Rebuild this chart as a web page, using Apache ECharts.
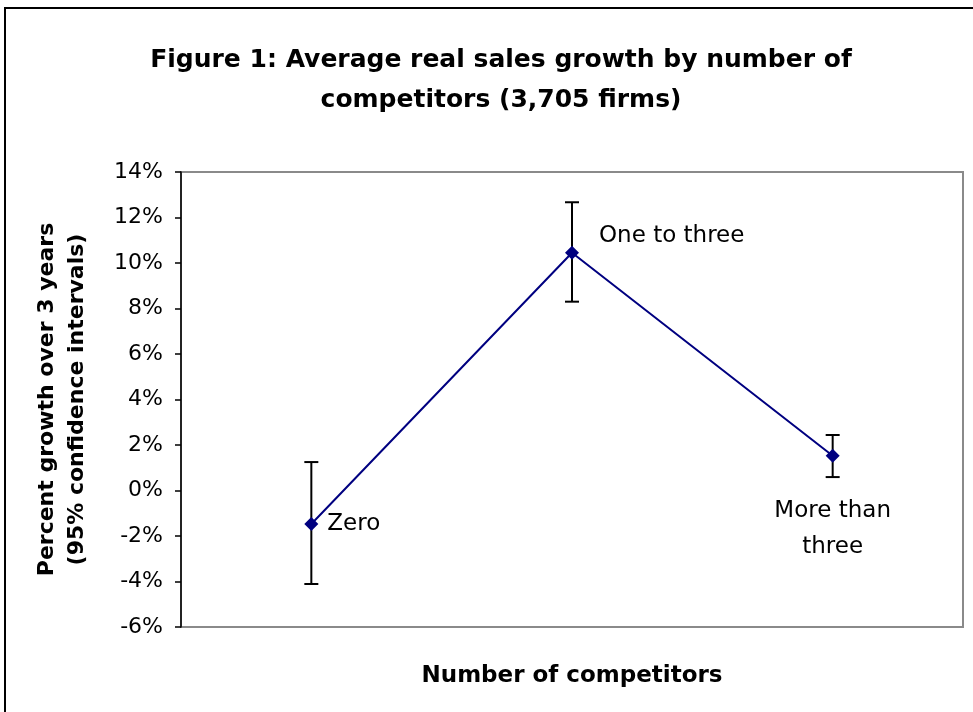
<!DOCTYPE html>
<html>
<head>
<meta charset="utf-8">
<script src="https://cdn.jsdelivr.net/npm/echarts@6/dist/echarts.min.js"></script>
<style>
html,body{margin:0;padding:0;background:#fff;}
#chart{width:973px;height:712px;}
</style>
</head>
<body>
<div id="chart"></div>
<script>
const categories = ['Zero', 'One to three', 'More than three'];
const meanGrowth = [-1.47, 10.45, 1.53];
const upperCI = [1.25, 12.67, 2.44];
const lowerCI = [-4.11, 8.30, 0.59];
const yTicks = { min: -6, max: 14, interval: 2 };

const FONT = '"DejaVu Sans", "Liberation Sans", Arial, sans-serif';
const chart = echarts.init(document.getElementById('chart'));

const errData = categories.map((c, i) => [i, lowerCI[i], upperCI[i]]);

chart.setOption({
  backgroundColor: '#fff',
  animation: false,
  title: {
    text: 'Figure 1: Average real sales growth by number of\ncompetitors (3,705 firms)',
    left: 496, top: 35, textAlign: 'center',
    textStyle: { fontFamily: FONT, fontSize: 25, fontWeight: 'bold', color: '#000', lineHeight: 40 }
  },
  graphic: [{
    type: 'rect', shape: { x: 5, y: 8, width: 1000, height: 720 },
    style: { fill: 'none', stroke: '#000', lineWidth: 2 }, z: -1
  }],
  grid: { left: 181, top: 172, right: 10, bottom: 85, show: true, borderColor: '#8a8a8a', borderWidth: 2, backgroundColor: 'transparent' },
  xAxis: {
    type: 'category', data: categories, boundaryGap: true,
    axisLine: { show: false }, axisTick: { show: false }, axisLabel: { show: false },
    splitLine: { show: false },
    name: 'Number of competitors', nameLocation: 'middle', nameGap: 38,
    nameTextStyle: { fontFamily: FONT, fontSize: 23, fontWeight: 'bold', color: '#000' }
  },
  yAxis: {
    type: 'value', min: yTicks.min, max: yTicks.max, interval: yTicks.interval,
    axisLine: { show: true, lineStyle: { color: '#000', width: 1.5 } },
    axisTick: { show: true, length: 6, inside: false, lineStyle: { color: '#000', width: 1.5 } },
    axisLabel: { formatter: v => v + '%', fontFamily: FONT, fontSize: 22, color: '#000', margin: 18 },
    splitLine: { show: false },
    name: 'Percent growth over 3 years\n(95% confidence intervals)',
    nameLocation: 'middle', nameGap: 89, nameRotate: 90,
    nameTextStyle: { fontFamily: FONT, fontSize: 22, fontWeight: 'bold', color: '#000', lineHeight: 30, padding: [0, 0, 0, 0] }
  },
  series: [
    {
      type: 'custom',
      data: errData,
      z: 2,
      renderItem: function (params, api) {
        const x = api.value(0);
        const lo = api.coord([x, api.value(1)]);
        const hi = api.coord([x, api.value(2)]);
        const hw = 7;
        const st = { stroke: '#000', lineWidth: 2, fill: 'none' };
        return {
          type: 'group',
          children: [
            { type: 'line', shape: { x1: hi[0], y1: hi[1], x2: lo[0], y2: lo[1] }, style: st },
            { type: 'line', shape: { x1: hi[0] - hw, y1: hi[1], x2: hi[0] + hw, y2: hi[1] }, style: st },
            { type: 'line', shape: { x1: lo[0] - hw, y1: lo[1], x2: lo[0] + hw, y2: lo[1] }, style: st }
          ]
        };
      }
    },
    {
      type: 'line',
      z: 3,
      data: [
        { value: meanGrowth[0], label: { show: true, formatter: 'Zero', position: 'right', distance: 9 } },
        { value: meanGrowth[1], label: { show: true, formatter: 'One to three', position: [34, -24], align: 'left', lineHeight: 28 } },
        { value: meanGrowth[2], label: { show: true, formatter: 'More than\nthree', position: 'bottom', distance: 30, align: 'center', lineHeight: 36 } }
      ],
      symbol: 'diamond', symbolSize: 14,
      itemStyle: { color: '#000080' },
      lineStyle: { color: '#000080', width: 2 },
      label: { fontFamily: FONT, fontSize: 23, color: '#000' }
    }
  ]
});
</script>
</body>
</html>
